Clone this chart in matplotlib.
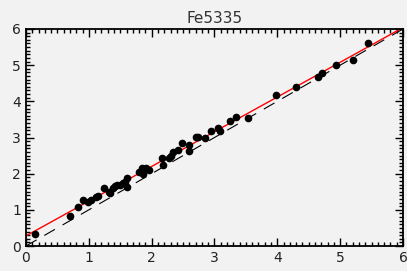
import numpy as np
import matplotlib
matplotlib.use("Agg")
import matplotlib.pyplot as plt
from matplotlib.ticker import MultipleLocator

# values
x_vals = [0.14, 0.70, 0.82, 0.90, 0.99, 1.03, 1.12, 1.15, 1.24, 1.32, 1.34, 1.39,
          1.42, 1.45, 1.50, 1.54, 1.57, 1.61, 1.61, 1.80, 1.84, 1.87, 1.91, 1.95,
          2.16, 2.18, 2.27, 2.30, 2.34, 2.42, 2.49, 2.60, 2.60, 2.70, 2.73, 2.85,
          2.94, 3.06, 3.09, 3.25, 3.35, 3.54, 3.98, 4.30, 4.64, 4.71, 4.93, 5.21, 5.45]
y_vals = [0.33, 0.84, 1.08, 1.27, 1.23, 1.26, 1.35, 1.37, 1.59, 1.50, 1.46, 1.59,
          1.67, 1.70, 1.68, 1.73, 1.78, 1.89, 1.64, 2.05, 2.15, 1.98, 2.15, 2.11,
          2.42, 2.24, 2.44, 2.49, 2.59, 2.65, 2.84, 2.79, 2.64, 3.01, 3.02, 2.98,
          3.19, 3.25, 3.18, 3.46, 3.57, 3.53, 4.17, 4.39, 4.68, 4.77, 5.00, 5.14, 5.60]
y_err = 0.07
fit_a = 0.28   # intercept
fit_b = 0.96   # slope
title = "Fe5335"

bg = "#f2f2f2"
fig = plt.figure(figsize=(4.07, 2.71), dpi=100, facecolor=bg)
ax = fig.add_axes([26/407, 25/271, 377/407, 217/271], facecolor=bg)

xx = np.array([0, 6])
ax.plot(xx, xx, color="black", lw=0.8, dashes=(11, 8))
ax.plot(xx, fit_a + fit_b*xx, color="red", lw=1.0)
ax.errorbar(x_vals, y_vals, yerr=y_err, fmt="o", color="black", ms=4.5,
            elinewidth=1.8, capsize=0)

ax.set_xlim(0, 6)
ax.set_ylim(0, 6)
ax.xaxis.set_major_locator(MultipleLocator(1))
ax.yaxis.set_major_locator(MultipleLocator(1))
ax.xaxis.set_minor_locator(MultipleLocator(0.1))
ax.yaxis.set_minor_locator(MultipleLocator(0.1))
ax.tick_params(which="both", direction="in", top=True, right=True,
               color="black", labelsize=10, labelcolor="#222222")
ax.tick_params(which="major", length=6, width=1)
ax.tick_params(which="minor", length=3, width=1)
for s in ax.spines.values():
    s.set_linewidth(1.3)

ax.set_title(title, fontsize=11, color="#333333", pad=4)

fig.savefig("out.png", dpi=100, facecolor=bg)
